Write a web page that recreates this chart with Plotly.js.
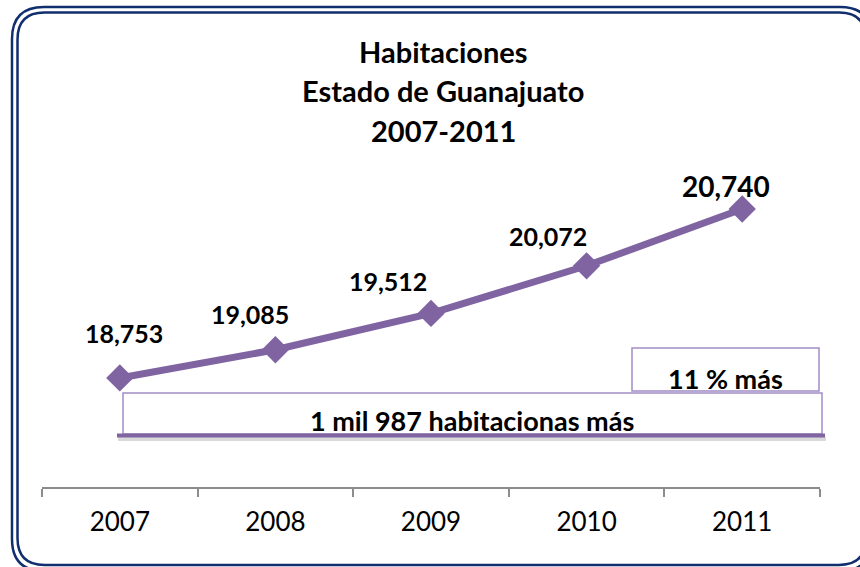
<!DOCTYPE html>
<html>
<head>
<meta charset="utf-8">
<script src="https://cdn.plot.ly/plotly-3.0.1.min.js"></script>
<style>
  html, body { margin: 0; padding: 0; background: #fff; }
  #plot { width: 860px; height: 567px; }
</style>
</head>
<body>
<div id="plot"></div>
<script>
// Chart values
const years = ['2007', '2008', '2009', '2010', '2011'];
const rooms = [18753, 19085, 19512, 20072, 20740];
const titleLines = ['Habitaciones', 'Estado de Guanajuato', '2007-2011'];
const noteSmall = '11 % más';
const noteWide = '1 mil 987 habitacionas más';

const purple = '#8064A2';
const boxLine = '#A08CC6';
const navy = '#112F6E';
const font = 'Lato, "Open Sans", sans-serif';

// plot area in pixels (matches margins below)
const L = 42, R = 820, T = 160, B = 487;
const X = px => (px - L) / (R - L);
const Y = py => (B - py) / (B - T);

// label offsets in pixels (x, y up) for each point
const labelShift = [[4, 45], [-25, 36], [-43, 32], [-39, 30], [-16, 23]];

// rounded rectangle path in paper coords
function roundRect(x0, y0, x1, y1, r) {
    const p = (x, y) => X(x) + ',' + Y(y);
    return 'M' + p(x0 + r, y0) +
        ' L' + p(x1 - r, y0) + ' Q' + p(x1, y0) + ' ' + p(x1, y0 + r) +
        ' L' + p(x1, y1 - r) + ' Q' + p(x1, y1) + ' ' + p(x1 - r, y1) +
        ' L' + p(x0 + r, y1) + ' Q' + p(x0, y1) + ' ' + p(x0, y1 - r) +
        ' L' + p(x0, y0 + r) + ' Q' + p(x0, y0) + ' ' + p(x0 + r, y0) + ' Z';
}

let trace = {
    x: years,
    y: rooms,
    type: 'scatter',
    mode: 'lines+markers',
    line: {color: purple, width: 7},
    marker: {symbol: 'diamond', size: 21, color: purple},
    hoverinfo: 'x+y'
};

let annotations = [];

// title, one annotation per line
titleLines.forEach(function (t, i) {
    annotations.push({
        text: '<b>' + t + '</b>', xref: 'paper', yref: 'paper',
        x: X(443), y: Y(51 + i * 39.5), xanchor: 'center', yanchor: 'middle',
        showarrow: false, font: {family: font, size: 29, color: '#000'}
    });
});

// data labels (category index as x position)
rooms.forEach(function (v, i) {
    annotations.push({
        text: '<b>' + v.toLocaleString('en-US') + '</b>',
        x: i, y: v, xref: 'x', yref: 'y',
        xanchor: 'center', yanchor: 'middle',
        xshift: labelShift[i][0], yshift: labelShift[i][1],
        showarrow: false,
        font: {family: font, size: i === rooms.length - 1 ? 28 : 25, color: '#000'}
    });
});

// notes inside the boxes
annotations.push({
    text: '<b>' + noteSmall + '</b>', xref: 'paper', yref: 'paper',
    x: X(725), y: Y(378), xanchor: 'center', yanchor: 'middle', showarrow: false,
    font: {family: font, size: 27, color: '#000'}
});
annotations.push({
    text: '<b>' + noteWide + '</b>', xref: 'paper', yref: 'paper',
    x: X(472), y: Y(420), xanchor: 'center', yanchor: 'middle', showarrow: false,
    font: {family: font, size: 27, color: '#000'}
});

let shapes = [
    {type: 'rect', xref: 'paper', yref: 'paper', x0: X(632), x1: X(819), y0: Y(391), y1: Y(348),
        line: {color: boxLine, width: 1.5}, fillcolor: 'rgba(0,0,0,0)'},
    {type: 'rect', xref: 'paper', yref: 'paper', x0: X(123), x1: X(822), y0: Y(434), y1: Y(393),
        line: {color: boxLine, width: 1.5}, fillcolor: 'rgba(0,0,0,0)'},
    // shadow + thick underline
    {type: 'line', xref: 'paper', yref: 'paper', x0: X(118), x1: X(826), y0: Y(439), y1: Y(439),
        line: {color: 'rgba(0,0,0,0.15)', width: 4}},
    {type: 'line', xref: 'paper', yref: 'paper', x0: X(117), x1: X(825), y0: Y(435.5), y1: Y(435.5),
        line: {color: purple, width: 4}},
    // double rounded border
    {type: 'path', xref: 'paper', yref: 'paper', path: roundRect(12, 7, 872, 571, 32),
        line: {color: navy, width: 2.5}},
    {type: 'path', xref: 'paper', yref: 'paper', path: roundRect(17.5, 12.5, 866, 565, 27),
        line: {color: navy, width: 2.5}}
];

var layout = {
    width: 860,
    height: 567,
    margin: {l: L, r: 860 - R, t: T, b: 567 - B},
    paper_bgcolor: '#fff',
    plot_bgcolor: '#fff',
    showlegend: false,
    font: {family: font, color: '#000'},
    xaxis: {
        type: 'category',
        range: [-0.5, 4.5],
        showline: true,
        linecolor: '#8C8C8C',
        linewidth: 2,
        ticks: 'outside',
        tickson: 'boundaries',
        ticklen: 8,
        tickwidth: 2,
        tickcolor: '#8C8C8C',
        ticklabelstandoff: 11,
        showgrid: false,
        zeroline: false,
        tickfont: {family: font, size: 26, color: '#000'}
    },
    yaxis: {
        range: [17471, 21316],
        visible: false,
        showgrid: false,
        zeroline: false
    },
    annotations: annotations,
    shapes: shapes
};

Plotly.newPlot('plot', [trace], layout, {displayModeBar: false, responsive: false});
</script>
</body>
</html>
